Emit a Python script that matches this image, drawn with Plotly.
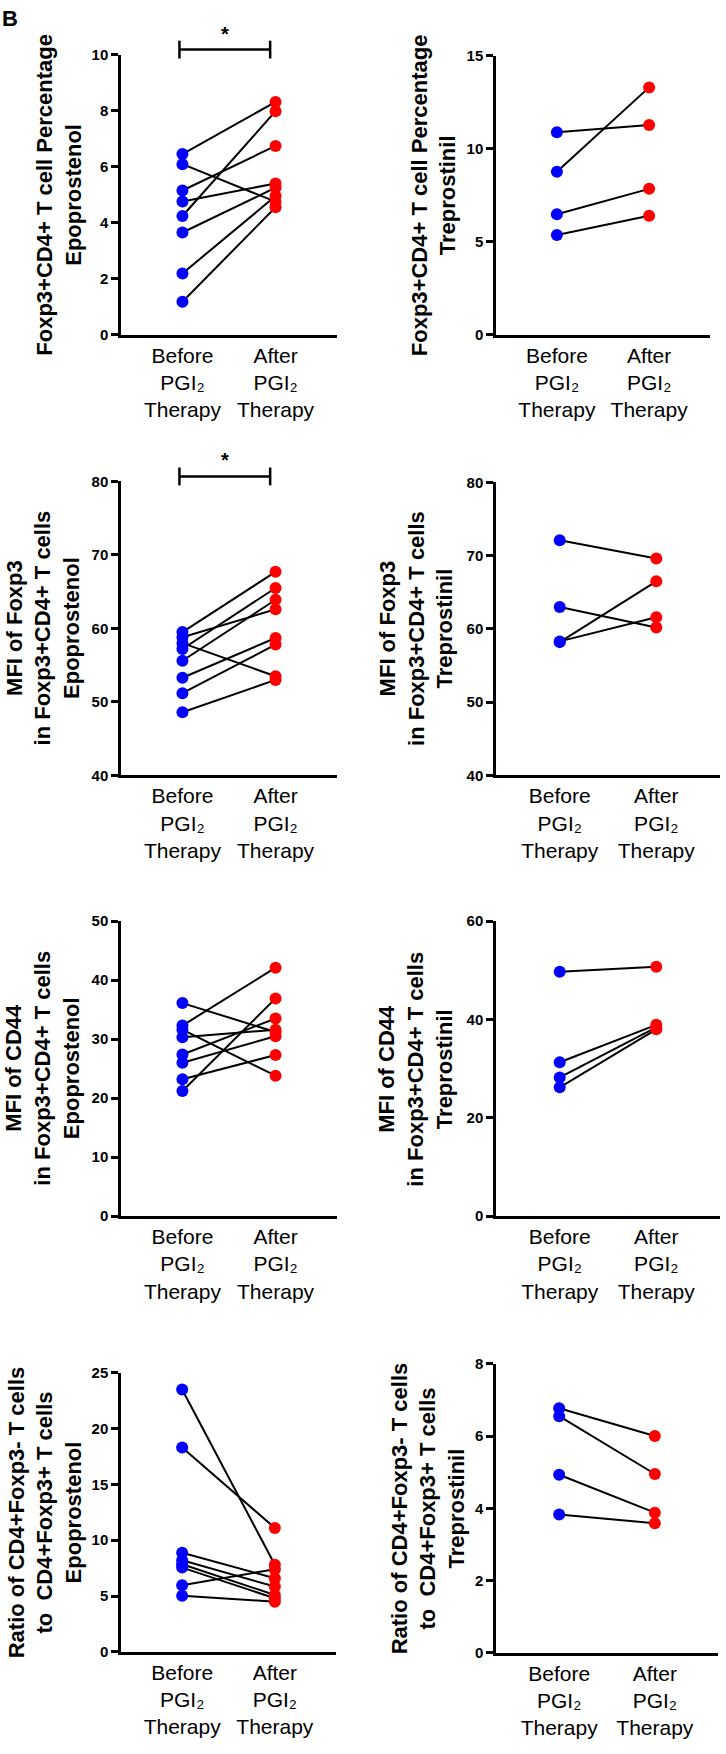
import plotly.graph_objects as go

W, H = 726, 1754
FONT = "Arial, Liberation Sans, Helvetica, sans-serif"

# ---- data ----
categories = ["Before<br>PGI₂<br>Therapy", "After<br>PGI₂<br>Therapy"]

epo_pct_before = [6.45, 6.09, 5.15, 4.76, 4.24, 3.65, 2.19, 1.18]
epo_pct_after = [8.31, 4.75, 6.74, 5.40, 7.98, 5.25, 4.95, 4.55]

tre_pct_before = [10.88, 8.76, 6.48, 5.36]
tre_pct_after = [11.27, 13.29, 7.84, 6.39]

epo_mfi_foxp3_before = [59.5, 58.8, 58.0, 57.2, 55.6, 53.3, 51.2, 48.6]
epo_mfi_foxp3_after = [67.7, 62.6, 53.5, 65.5, 63.9, 58.7, 57.8, 53.0]

tre_mfi_foxp3_before = [72.1, 63.0, 58.2, 58.3]
tre_mfi_foxp3_after = [69.6, 60.2, 66.5, 61.6]

epo_mfi_cd44_before = [36.1, 32.3, 31.6, 30.3, 27.4, 26.0, 23.2, 21.2]
epo_mfi_cd44_after = [31.2, 42.1, 23.8, 31.6, 33.5, 30.5, 27.3, 36.9]

tre_mfi_cd44_before = [49.7, 31.3, 28.2, 26.2]
tre_mfi_cd44_after = [50.7, 38.9, 38.4, 38.0]

epo_ratio_before = [23.5, 18.3, 8.87, 8.2, 7.85, 7.55, 5.97, 5.02]
epo_ratio_after = [7.8, 11.1, 6.6, 5.85, 5.1, 4.8, 7.4, 4.5]

tre_ratio_before = [6.77, 6.55, 4.93, 3.83]
tre_ratio_after = [6.0, 4.95, 3.88, 3.59]

titles = [
    "Foxp3+CD4+ T cell Percentage<br>Epoprostenol",
    "Foxp3+CD4+ T cell Percentage<br>Treprostinil",
    "MFI of Foxp3<br>in Foxp3+CD4+ T cells<br>Epoprostenol",
    "MFI of Foxp3<br>in Foxp3+CD4+ T cells<br>Treprostinil",
    "MFI of CD44<br>in Foxp3+CD4+ T cells<br>Epoprostenol",
    "MFI of CD44<br>in Foxp3+CD4+ T cells<br>Treprostinil",
    "Ratio of CD4+Foxp3- T cells<br>to  CD4+Foxp3+ T cells<br>Epoprostenol",
    "Ratio of CD4+Foxp3- T cells<br>to  CD4+Foxp3+ T cells<br>Treprostinil",
]

# ---- layout spec (pixels) ----
panels = [
    dict(b=epo_pct_before, a=epo_pct_after, yr=(0, 10), dt=2, px=(121, 337), py=(46, 329), tx=59, sig=True),
    dict(b=tre_pct_before, a=tre_pct_after, yr=(0, 15), dt=5, px=(496, 710), py=(47, 329), tx=434, sig=False),
    dict(b=epo_mfi_foxp3_before, a=epo_mfi_foxp3_after, yr=(40, 80), dt=10, px=(121, 337), py=(477, 774), tx=43, sig=True),
    dict(b=tre_mfi_foxp3_before, a=tre_mfi_foxp3_after, yr=(40, 80), dt=10, px=(496, 720), py=(478, 774), tx=416, sig=False),
    dict(b=epo_mfi_cd44_before, a=epo_mfi_cd44_after, yr=(0, 50), dt=10, px=(121, 337), py=(921, 1219), tx=42, sig=False),
    dict(b=tre_mfi_cd44_before, a=tre_mfi_cd44_after, yr=(0, 60), dt=20, px=(496, 720), py=(921, 1219), tx=415, sig=False),
    dict(b=epo_ratio_before, a=epo_ratio_after, yr=(0, 25), dt=5, px=(121, 336), py=(1377, 1659), tx=45, sig=False),
    dict(b=tre_ratio_before, a=tre_ratio_after, yr=(0, 8), dt=2, px=(496, 718), py=(1368, 1660), tx=428, sig=False),
]

XR = (-0.66, 1.66)

fig = go.Figure()
annotations = []
shapes = []

for i, p in enumerate(panels, start=1):
    xa = "x" if i == 1 else f"x{i}"
    ya = "y" if i == 1 else f"y{i}"
    # connecting lines
    lx, ly = [], []
    for bv, av in zip(p["b"], p["a"]):
        lx += [0, 1, None]
        ly += [bv, av, None]
    fig.add_trace(go.Scatter(x=lx, y=ly, mode="lines", line=dict(color="black", width=2),
                             xaxis=xa, yaxis=ya, showlegend=False, hoverinfo="skip"))
    fig.add_trace(go.Scatter(x=[0] * len(p["b"]), y=p["b"], mode="markers",
                             marker=dict(color="#0000FF", size=12), xaxis=xa, yaxis=ya,
                             showlegend=False, cliponaxis=False))
    fig.add_trace(go.Scatter(x=[1] * len(p["a"]), y=p["a"], mode="markers",
                             marker=dict(color="#FF0000", size=12), xaxis=xa, yaxis=ya,
                             showlegend=False, cliponaxis=False))

    x0, x1 = p["px"]
    y0, y1 = p["py"]
    xdom = [x0 / W, x1 / W]
    ydom = [1 - y1 / H, 1 - y0 / H]
    ticks = list(range(int(p["yr"][0]), int(p["yr"][1]) + 1, p["dt"]))
    fig.update_layout({
        ("xaxis" if i == 1 else f"xaxis{i}"): dict(
            domain=xdom, anchor=ya, range=list(XR), tickvals=[0, 1], ticktext=categories,
            showline=True, linecolor="black", linewidth=2.5, ticks="", showgrid=False,
            zeroline=False, tickfont=dict(family=FONT, size=21, color="black"),
            ticklabelstandoff=0, fixedrange=True),
        ("yaxis" if i == 1 else f"yaxis{i}"): dict(
            domain=ydom, anchor=xa, range=list(p["yr"]), tickvals=ticks,
            showline=True, linecolor="black", linewidth=2.5, ticks="outside", ticklen=7,
            tickwidth=2.5, tickcolor="black", showgrid=False, zeroline=False,
            tickfont=dict(family=FONT, size=15, color="black", weight="bold"), fixedrange=True),
    })

    # y-axis title
    annotations.append(dict(
        text="<b>" + titles[i - 1] + "</b>", xref="paper", yref="paper",
        x=p["tx"] / W, y=1 - (y0 + y1) / 2 / H, xanchor="center", yanchor="middle",
        textangle=-90, showarrow=False, align="center",
        font=dict(family=FONT, size=22, color="black")))

    if p["sig"]:
        xd = "x domain" if i == 1 else f"x{i} domain"
        yd = "y domain" if i == 1 else f"y{i} domain"
        span = XR[1] - XR[0]
        bx0 = (0 - XR[0]) / span - 0.014
        bx1 = (1 - XR[0]) / span - 0.025
        hpx = y1 - y0
        yb = 1 + 5 / hpx
        cap = 9 / hpx
        shapes.append(dict(type="line", xref=xd, yref=yd, x0=bx0, x1=bx1, y0=yb, y1=yb,
                           line=dict(color="black", width=2.5)))
        for bx in (bx0, bx1):
            shapes.append(dict(type="line", xref=xd, yref=yd, x0=bx, x1=bx, y0=yb - cap, y1=yb + cap,
                               line=dict(color="black", width=2.5)))
        annotations.append(dict(text="<b>*</b>", xref=xd, yref=yd, x=(bx0 + bx1) / 2, y=yb + 3 / hpx,
                                xanchor="center", yanchor="bottom", showarrow=False,
                                font=dict(family=FONT, size=20, color="black")))

annotations.append(dict(text="<b>B</b>", xref="paper", yref="paper", x=0, y=1, xanchor="left",
                        yanchor="top", yshift=5, showarrow=False,
                        font=dict(family=FONT, size=22, color="black")))

fig.update_layout(width=W, height=H, margin=dict(l=0, r=0, t=0, b=0),
                  paper_bgcolor="white", plot_bgcolor="white",
                  annotations=annotations, shapes=shapes, showlegend=False)

fig.write_html("out.html", config={"displayModeBar": False},
               post_script="document.body.style.margin='0';document.body.style.padding='0';"
                           "document.body.style.overflow='hidden';")
